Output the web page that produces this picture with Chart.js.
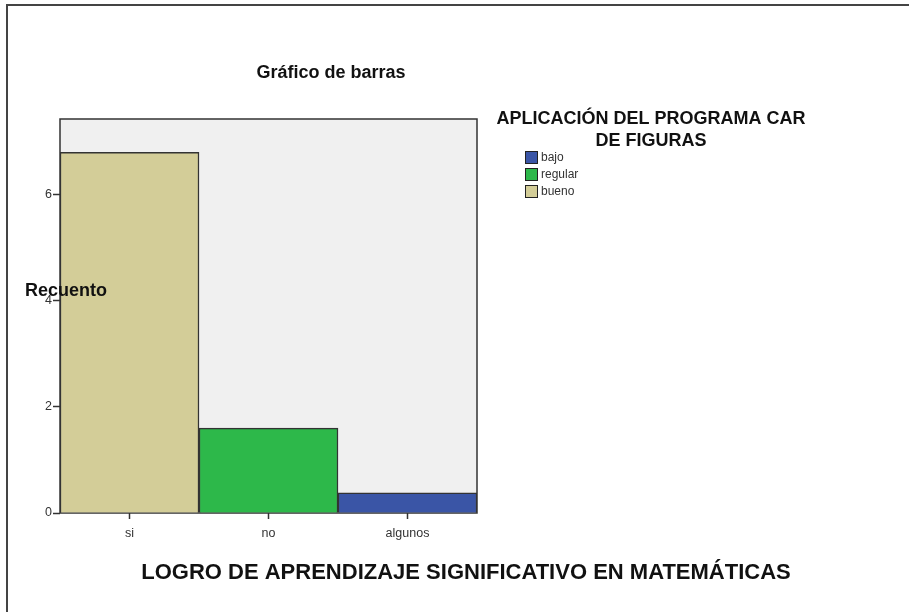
<!DOCTYPE html>
<html>
<head>
<meta charset="utf-8">
<script src="https://cdn.jsdelivr.net/npm/chart.js@4/dist/chart.umd.min.js"></script>
<style>
  html, body { margin: 0; padding: 0; background: #fff; }
  #wrap { width: 909px; height: 612px; position: relative; }
</style>
</head>
<body>
<div id="wrap"><canvas id="chart"></canvas></div>
<script>
// categories on the x axis
const categories = ['si', 'no', 'algunos'];
// series (legend order), counts
const bajo = [null, null, 0.38];
const regular = [null, 1.6, null];
const bueno = [6.8, null, null];
const seriesNames = ['bajo', 'regular', 'bueno'];
const seriesColors = ['#3A55A6', '#2DB84A', '#D3CD98'];
const yTicks = [0, 2, 4, 6];

const FONT = '"Liberation Sans", Arial, sans-serif';

// frame, plot background and the texts SPSS puts around the plot
const decor = {
  id: 'decor',
  beforeDraw(chart) {
    const { ctx, chartArea: a } = chart;
    ctx.save();
    ctx.fillStyle = '#fff';
    ctx.fillRect(0, 0, chart.width, chart.height);
    ctx.strokeStyle = '#444';
    ctx.lineWidth = 2;
    ctx.beginPath();
    ctx.moveTo(7, chart.height);
    ctx.lineTo(7, 5);
    ctx.lineTo(chart.width, 5);
    ctx.stroke();
    ctx.fillStyle = '#F0F0F0';
    ctx.fillRect(a.left, a.top, a.right - a.left, a.bottom - a.top);
    ctx.restore();
  },
  beforeDatasetsDraw(chart) {
    const { ctx, chartArea: a } = chart;
    ctx.save();
    ctx.strokeStyle = '#333';
    ctx.lineWidth = 1.5;
    ctx.strokeRect(a.left, a.top, a.right - a.left, a.bottom - a.top);
    ctx.restore();
  },
  afterDraw(chart) {
    const { ctx } = chart;
    ctx.save();
    ctx.fillStyle = '#111';
    ctx.textBaseline = 'middle';
    ctx.textAlign = 'center';
    ctx.font = 'bold 18px ' + FONT;
    ctx.fillText('Gráfico de barras', 331, 73);
    ctx.fillText('APLICACIÓN DEL PROGRAMA CAR', 651, 119);
    ctx.fillText('DE FIGURAS', 651, 141);
    ctx.font = 'bold 22px ' + FONT;
    ctx.fillText('LOGRO DE APRENDIZAJE SIGNIFICATIVO EN MATEMÁTICAS', 466, 573);
    ctx.textAlign = 'left';
    ctx.font = 'bold 18px ' + FONT;
    ctx.fillText('Recuento', 25, 291);

    // legend from the datasets
    ctx.font = '12px ' + FONT;
    chart.data.datasets.forEach((ds, i) => {
      const y = 151 + i * 17;
      ctx.fillStyle = ds.backgroundColor;
      ctx.fillRect(525, y, 13, 13);
      ctx.strokeStyle = '#222';
      ctx.lineWidth = 1;
      ctx.strokeRect(525.5, y + 0.5, 12, 12);
      ctx.fillStyle = '#333';
      ctx.fillText(ds.label, 541, y + 7);
    });
    ctx.restore();
  }
};

const seriesData = [bajo, regular, bueno];

new Chart(document.getElementById('chart'), {
  type: 'bar',
  data: {
    labels: categories,
    datasets: seriesNames.map((name, i) => ({
      label: name,
      data: seriesData[i],
      backgroundColor: seriesColors[i],
      borderColor: '#333',
      borderWidth: 1.5,
      barPercentage: 1,
      categoryPercentage: 1
    }))
  },
  options: {
    responsive: true,
    maintainAspectRatio: false,
    animation: false,
    layout: { padding: { left: 20, right: 432, top: 119, bottom: 69 } },
    plugins: { legend: { display: false }, tooltip: { enabled: false } },
    scales: {
      x: {
        stacked: true,
        afterFit(scale) { scale.height = 30; },
        border: { display: false },
        grid: { offset: false, drawOnChartArea: false, tickLength: 6, color: '#333', tickWidth: 1.5 },
        ticks: { color: '#333', font: { family: FONT, size: 12.5 }, padding: 7 }
      },
      y: {
        stacked: true,
        min: 0,
        max: 7.43,
        afterFit(scale) { scale.width = 40; },
        afterBuildTicks(scale) { scale.ticks = yTicks.map(v => ({ value: v })); },
        border: { display: false },
        grid: { drawOnChartArea: false, tickLength: 7, color: '#333', tickWidth: 1.5 },
        ticks: { color: '#333', font: { family: FONT, size: 12.5 }, padding: 1 }
      }
    }
  },
  plugins: [decor]
});
</script>
</body>
</html>
